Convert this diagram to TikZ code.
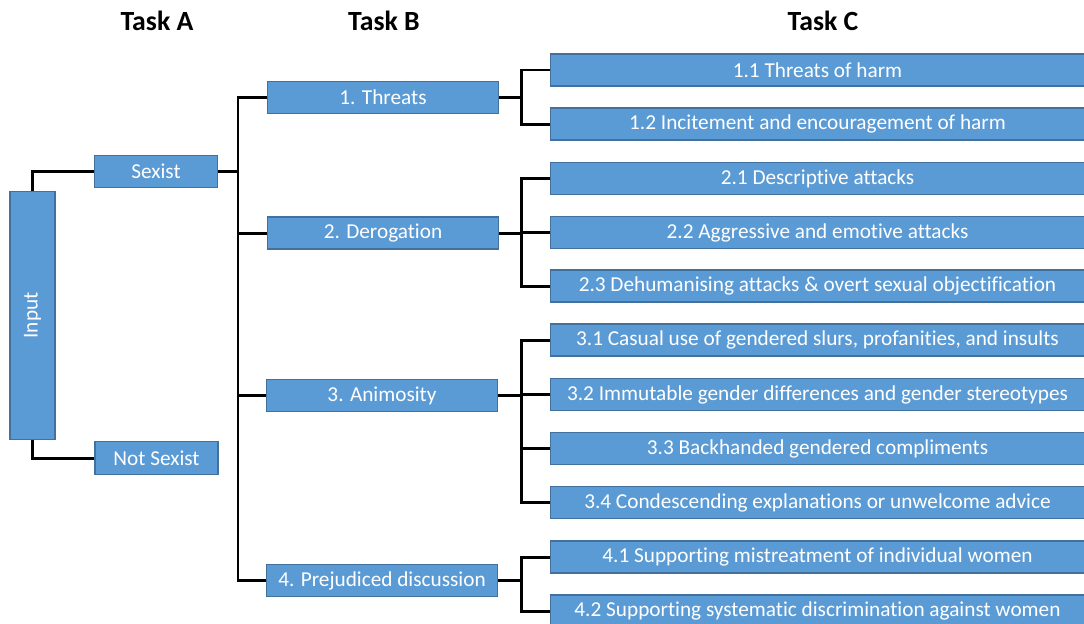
\documentclass[tikz,border=0pt]{standalone}
\usepackage{fontspec}
\setmainfont{Carlito}[Ligatures=NoCommon]
\usepackage{tikz}

\definecolor{boxblue}{HTML}{5B9BD5}
\definecolor{boxedge}{HTML}{41719C}

\begin{document}
\begin{tikzpicture}[x=0.02cm,y=-0.02cm,
		cat/.style={draw=boxedge,line width=0.6pt,fill=boxblue,text=white,inner sep=0pt,
			font=\fontsize{12.1}{14}\selectfont},
		lvla/.style={cat,minimum width=2.46cm,minimum height=0.65cm},
		lvlb/.style={cat,minimum width=4.62cm,minimum height=0.64cm},
		lvlc/.style={cat,minimum width=10.7cm,minimum height=0.64cm},
		head/.style={font=\fontsize{15.8}{18}\selectfont\bfseries},
		link/.style={line width=1.7pt}]
		\useasboundingbox (0,0) rectangle (1084,623);
		% column titles
		\node[head](ha) at (157,21) {Task A};
		\node[head](hb) at (384,21) {Task B};
		\node[head](hc) at (823,21) {Task C};
		% task A
		\node[cat,minimum width=0.9cm,minimum height=4.96cm](input) at (32.5,315.5) {\rotatebox{90}{Input}};
		\node[lvla](sexist) at (156,171.5) {Sexist};
		\node[lvla](notsexist) at (156.5,458) {Not Sexist};
		% task B
		\node[lvlb](threats) at (383,97.5) {1. Threats};
		\node[lvlb](derog) at (383,233) {2. Derogation};
		\node[lvlb](anim) at (382,395.5) {3. Animosity};
		\node[lvlb](prej) at (382,580.5) {4. Prejudiced discussion};
		% task C
		\node[lvlc](c11) at (817.5,70) {1.1 Threats of harm};
		\node[lvlc](c12) at (817.5,124) {1.2 Incitement and encouragement of harm};
		\node[lvlc](c21) at (817.5,178.5) {2.1 Descriptive attacks};
		\node[lvlc](c22) at (817.5,232.5) {2.2 Aggressive and emotive attacks};
		\node[lvlc](c23) at (817.5,286) {2.3 Dehumanising attacks \& overt sexual objectification};
		\node[lvlc](c31) at (817.5,340) {3.1 Casual use of gendered slurs, profanities, and insults};
		\node[lvlc](c32) at (817.5,394.5) {3.2 Immutable gender differences and gender stereotypes};
		\node[lvlc](c33) at (817.5,448.5) {3.3 Backhanded gendered compliments};
		\node[lvlc](c34) at (817.5,502.5) {3.4 Condescending explanations or unwelcome advice};
		\node[lvlc](c41) at (817.5,557) {4.1 Supporting mistreatment of individual women};
		\node[lvlc](c42) at (817.5,611) {4.2 Supporting systematic discrimination against women};
		% branch points
		\coordinate (ja) at (238,0);
		\coordinate (jc) at (521,0);
		% input -> task A
		\draw[link] (input.north) |- (sexist.west);
		\draw[link] (input.south) |- (notsexist.west);
		% sexist -> task B
		\draw[link] (sexist.east) -- (ja |- sexist.east);
		\draw[link] (threats.west) -| (ja |- prej.west) -- (prej.west);
		\draw[link] (ja |- derog.west) -- (derog.west);
		\draw[link] (ja |- anim.west) -- (anim.west);
		% task B -> task C
		\draw[link] (threats.east) -- (jc |- threats.east);
		\draw[link] (c11.west) -| (jc |- c12.west) -- (c12.west);
		\draw[link] (derog.east) -- (jc |- derog.east);
		\draw[link] (c21.west) -| (jc |- c23.west) -- (c23.west);
		\draw[link] (jc |- c22.west) -- (c22.west);
		\draw[link] (anim.east) -- (jc |- anim.east);
		\draw[link] (c31.west) -| (jc |- c34.west) -- (c34.west);
		\draw[link] (jc |- c32.west) -- (c32.west);
		\draw[link] (jc |- c33.west) -- (c33.west);
		\draw[link] (prej.east) -- (jc |- prej.east);
		\draw[link] (c41.west) -| (jc |- c42.west) -- (c42.west);
	\end{tikzpicture}
\end{document}
